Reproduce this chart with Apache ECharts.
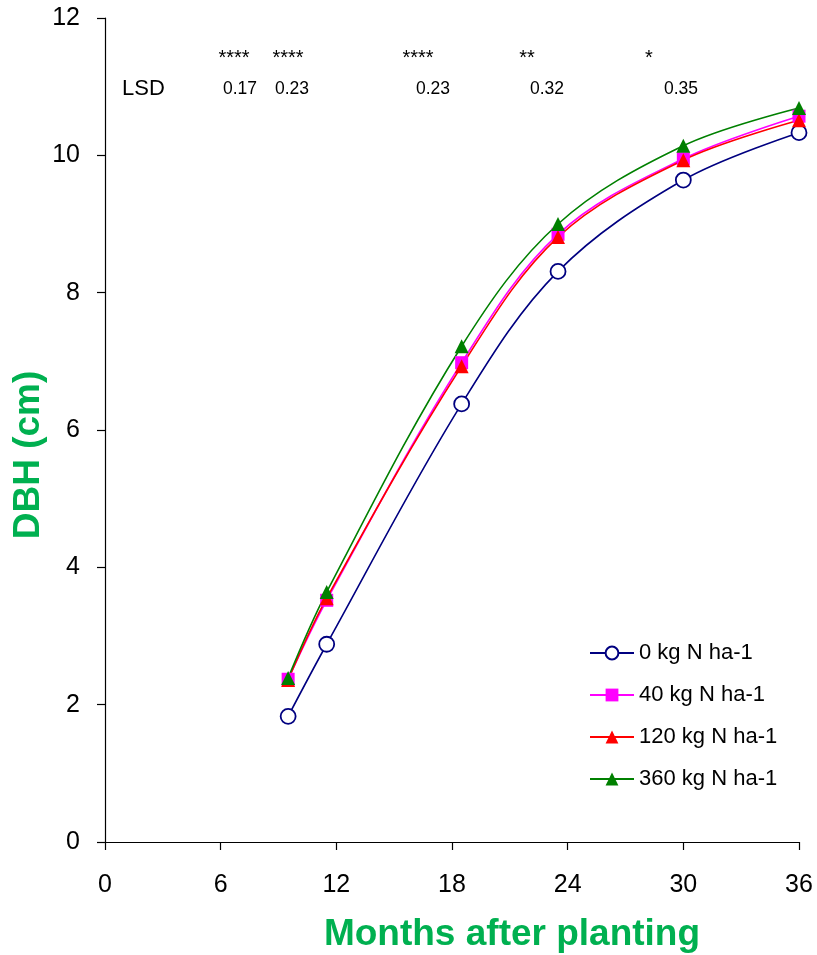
<!DOCTYPE html>
<html>
<head>
<meta charset="utf-8">
<script src="https://cdn.jsdelivr.net/npm/echarts@6/dist/echarts.min.js"></script>
<style>
  html, body { margin: 0; padding: 0; background: #fff; }
  #chart { width: 817px; height: 955px; }
</style>
</head>
<body>
<div id="chart"></div>
<script>
// Months after planting at each measurement
var months = [9.5, 11.5, 18.5, 23.5, 30, 36];

// Mean DBH (cm) per nitrogen rate
var dbh0   = [1.83, 2.88, 6.38, 8.31, 9.64, 10.33];
var dbh40  = [2.37, 3.52, 6.98, 8.85, 9.95, 10.57];
var dbh120 = [2.36, 3.55, 6.93, 8.81, 9.93, 10.51];
var dbh360 = [2.39, 3.64, 7.22, 9.00, 10.14, 10.69];

var seriesNames = ['0 kg N ha-1', '40 kg N ha-1', '120 kg N ha-1', '360 kg N ha-1'];

// Significance and LSD row
var lsdStars  = ['****', '****', '****', '**', '*'];
var lsdValues = ['0.17', '0.23', '0.23', '0.32', '0.35'];

var xTicks = [0, 6, 12, 18, 24, 30, 36];

var xTitle = 'Months after planting';
var yTitle = 'DBH (cm)';

function pairs(ys) {
  return months.map(function (m, i) { return [m, ys[i]]; });
}

var FONT = 'Liberation Sans, Arial, sans-serif';
var GREEN_TITLE = '#00B050';

var chart = echarts.init(document.getElementById('chart'), null, { renderer: 'canvas' });

function lineSeries(name, ys, color, symbol, size, fill) {
  return {
    name: name,
    type: 'line',
    data: pairs(ys),
    smooth: 0.35,
    symbol: symbol,
    symbolSize: size,
    showAllSymbol: true,
    lineStyle: { color: color, width: 1.6 },
    itemStyle: { color: fill, borderColor: color, borderWidth: symbol === 'circle' ? 1.8 : 0 },
    emphasis: { disabled: true },
    z: 2
  };
}

// Stars and LSD values placed above the curves
var starX = [234, 288, 418, 527, 649];
var lsdX  = [240, 292, 433, 547, 681];
var graphics = [
  {
    type: 'text', x: 122, y: 89,
    style: { text: 'LSD', font: '22px ' + FONT, fill: '#000', verticalAlign: 'middle' }
  },
  {
    type: 'text', x: 512, y: 935,
    style: { text: xTitle, font: 'bold 37px ' + FONT, fill: GREEN_TITLE, align: 'center', verticalAlign: 'middle' }
  },
  {
    type: 'text', x: 29, y: 455, rotation: Math.PI / 2,
    style: { text: yTitle, font: 'bold 37px ' + FONT, fill: GREEN_TITLE, align: 'center', verticalAlign: 'middle' }
  }
];
lsdStars.forEach(function (s, i) {
  graphics.push({
    type: 'text', x: starX[i], y: 58,
    style: { text: s, font: '20px ' + FONT, fill: '#000', align: 'center', verticalAlign: 'middle' }
  });
});
lsdValues.forEach(function (v, i) {
  graphics.push({
    type: 'text', x: lsdX[i], y: 89,
    style: { text: v, font: '17.5px ' + FONT, fill: '#000', align: 'center', verticalAlign: 'middle' }
  });
});

chart.setOption({
  animation: false,
  backgroundColor: '#fff',
  grid: { left: 105, right: 18, top: 18, bottom: 113, containLabel: false },
  xAxis: {
    type: 'value',
    min: 0, max: 36, interval: 6,
    axisLine: { show: true, onZero: false, lineStyle: { color: '#000', width: 1.2 } },
    axisTick: { show: true, inside: false, length: 8, lineStyle: { color: '#000', width: 1.2 } },
    axisLabel: {
      color: '#000', fontFamily: FONT, fontSize: 25, margin: 31,
      formatter: function (v) { return xTicks.indexOf(v) >= 0 ? String(v) : ''; }
    },
    splitLine: { show: false }
  },
  yAxis: {
    type: 'value',
    min: 0, max: 12, interval: 2,
    axisLine: { show: true, lineStyle: { color: '#000', width: 1.2 } },
    axisTick: { show: true, inside: false, length: 8, lineStyle: { color: '#000', width: 1.2 } },
    axisLabel: { color: '#000', fontFamily: FONT, fontSize: 25, margin: 25 },
    splitLine: { show: false }
  },
  legend: {
    orient: 'vertical',
    left: 589,
    top: 642,
    padding: 0,
    itemWidth: 44,
    itemHeight: 16,
    itemGap: 20,
    textStyle: { color: '#000', fontFamily: FONT, fontSize: 22 },
    data: seriesNames
  },
  series: [
    lineSeries(seriesNames[0], dbh0, '#000080', 'circle', 15, '#fff'),
    lineSeries(seriesNames[1], dbh40, '#FF00FF', 'rect', 13, '#FF00FF'),
    lineSeries(seriesNames[2], dbh120, '#FF0000', 'triangle', 14, '#FF0000'),
    lineSeries(seriesNames[3], dbh360, '#008000', 'triangle', 14, '#008000')
  ],
  graphic: graphics
});
</script>
</body>
</html>
